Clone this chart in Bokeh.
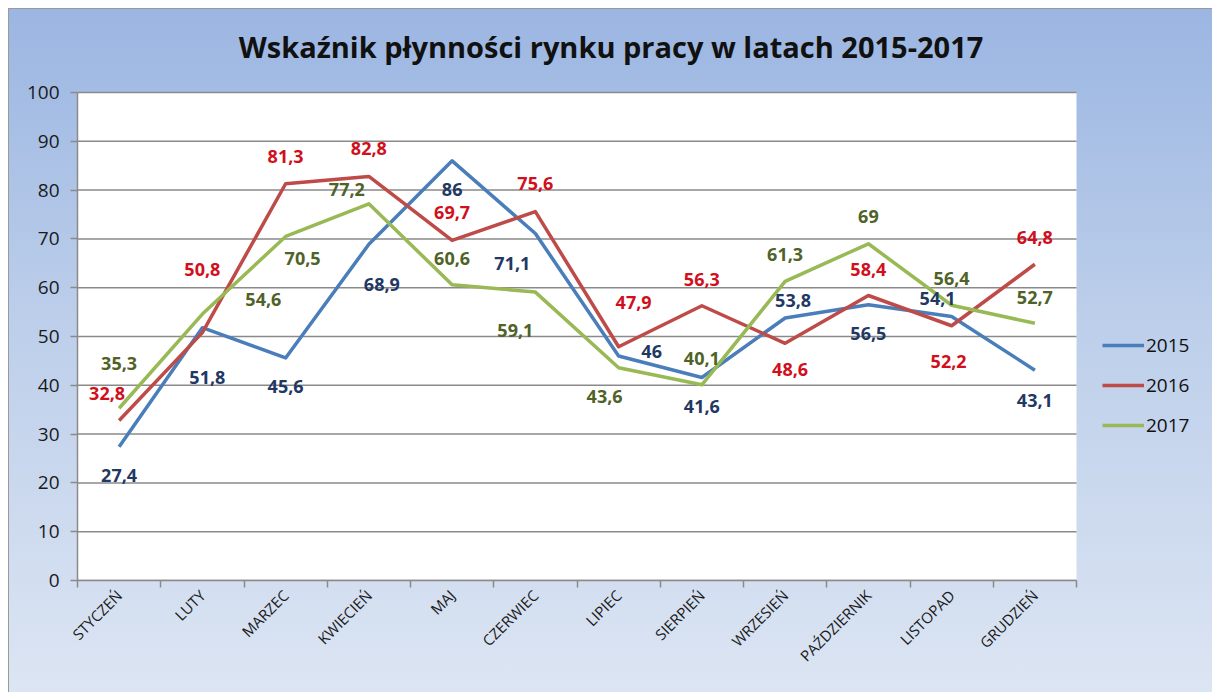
from bokeh.plotting import figure
from bokeh.models import Range1d, FixedTicker, ColumnDataSource, Legend, LegendItem, Label
from bokeh.core.properties import value
from bokeh.embed import file_html
from bokeh.resources import INLINE

# ---- data ----
months = ["STYCZEŃ", "LUTY", "MARZEC", "KWIECIEŃ", "MAJ", "CZERWIEC",
          "LIPIEC", "SIERPIEŃ", "WRZESIEŃ", "PAŹDZIERNIK", "LISTOPAD", "GRUDZIEŃ"]
years = ["2015", "2016", "2017"]
v2015 = [27.4, 51.8, 45.6, 68.9, 86, 71.1, 46, 41.6, 53.8, 56.5, 54.1, 43.1]
v2016 = [32.8, 50.8, 81.3, 82.8, 69.7, 75.6, 47.9, 56.3, 48.6, 58.4, 52.2, 64.8]
v2017 = [35.3, 54.6, 70.5, 77.2, 60.6, 59.1, 43.6, 40.1, 61.3, 69, 56.4, 52.7]
y_ticks = [0, 10, 20, 30, 40, 50, 60, 70, 80, 90, 100]
title_text = "Wskaźnik płynności rynku pracy w latach 2015-2017"

# ---- label placement (style, screen px: dx right, dy down) ----
off2015 = [(0, 29), (5, 50), (0, 29), (13, 40), (0, 29), (-23, 30),
           (33, -5), (0, 29), (8, -17), (0, 29), (-14, -18), (0, 30)]
off2016 = [(-12, -27), (0, -63), (0, -27), (0, -28), (0, -28), (0, -28),
           (15, -44), (0, -26), (5, 26), (0, -26), (-3, 36), (0, -27)]
off2017 = [(0, -45), (61, -15), (17, 22), (-22, -14), (0, -26), (-20, 38),
           (-14, 29), (0, -26), (0, -27), (0, -27), (0, -27), (0, -26)]

line_colors = ["#4A7EBB", "#BE4B48", "#98B954"]
label_colors = ["#1F3864", "#D0101C", "#4F6228"]

n = len(months)
ymax = max(y_ticks)
xs = [i + 0.5 for i in range(n)]

# layout (pixels): chart 1204x684; plot area 999x488 with its left edge at 68 and bottom at 571
W, H = 1204, 684
left, bottom_px, area_w, area_h = 68, 113, 999, 488
frame_w, frame_h = W - left, H - bottom_px
x_end = n * frame_w / area_w
y_end = ymax * frame_h / area_h

p = figure(width=W, height=H, output_backend="svg", toolbar_location=None,
           x_range=Range1d(0, x_end), y_range=Range1d(0, y_end),
           min_border_left=left, min_border_right=0, min_border_top=0,
           min_border_bottom=bottom_px)

p.styles = {"background": "linear-gradient(to bottom, #9BB6E2 0%, #BCCEEA 45%, #DCE5F3 100%)",
            "border-left": "1px solid #9a9a9a", "border-top": "1px solid #9a9a9a",
            "margin-left": "8px", "margin-top": "8px"}
p.border_fill_alpha = 0
p.background_fill_alpha = 0
p.outline_line_color = None
p.xgrid.grid_line_color = None
p.ygrid.grid_line_color = None

# white plot area + horizontal gridlines
p.quad(left=0, right=n, bottom=0, top=ymax, fill_color="white", line_color=None)
p.segment(x0=[0] * len(y_ticks), x1=[n] * len(y_ticks), y0=y_ticks, y1=y_ticks,
          line_color="#8a8a8a", line_width=1.5)

# title
p.add_layout(Label(x=n / 2, y=ymax, x_offset=34, y_offset=46, text=title_text,
                   text_align="center", text_baseline="middle",
                   text_font="Open Sans", text_font_style="bold",
                   text_font_size="29px", text_color="#111111"))

# axes
xa = p.xaxis[0]
xa.bounds = (0, n)
xa.ticker = FixedTicker(ticks=xs, minor_ticks=list(range(n + 1)))
xa.major_label_overrides = {x: m for x, m in zip(xs, months)}
xa.major_label_orientation = 0.785398
xa.major_tick_line_color = None
xa.minor_tick_line_color = "#8a8a8a"
xa.minor_tick_line_width = 1.5
xa.minor_tick_in = 0
xa.minor_tick_out = 7
xa.axis_line_color = "#8a8a8a"
xa.axis_line_width = 1.5
xa.major_label_text_font = "Open Sans"
xa.major_label_text_font_size = "15px"
xa.major_label_text_color = "#1a1a1a"
xa.major_label_standoff = 5

ya = p.yaxis[0]
ya.bounds = (0, ymax)
ya.ticker = FixedTicker(ticks=y_ticks)
ya.minor_tick_line_color = None
ya.major_tick_line_color = "#8a8a8a"
ya.major_tick_line_width = 1.5
ya.major_tick_in = 0
ya.major_tick_out = 7
ya.axis_line_color = "#8a8a8a"
ya.axis_line_width = 1.5
ya.major_label_text_font = "Open Sans"
ya.major_label_text_font_size = "19px"
ya.major_label_text_color = "#1a1a1a"
ya.major_label_standoff = 11

items = []
for name, vals, lc in zip(years, [v2015, v2016, v2017], line_colors):
    r = p.line(xs, vals, line_color=lc, line_width=3.5, line_join="round")
    items.append(LegendItem(label=name, renderers=[r]))

for vals, offs, tc in zip([v2015, v2016, v2017], [off2015, off2016, off2017], label_colors):
    src = ColumnDataSource(dict(x=xs, y=vals,
                                txt=[str(v).replace(".", ",") for v in vals],
                                dx=[o[0] for o in offs], dy=[o[1] for o in offs]))
    p.text("x", "y", text="txt", source=src, x_offset="dx", y_offset="dy",
           text_align="center", text_baseline="middle",
           text_font=value("Open Sans"), text_font_style="bold",
           text_font_size="18px", text_color=tc)

legend = Legend(items=items, location=(1025, 142), orientation="vertical",
                glyph_width=42, glyph_height=20, label_height=20, spacing=14,
                label_standoff=2, padding=0, margin=0,
                border_line_color=None, background_fill_alpha=0,
                label_text_font="Open Sans", label_text_font_size="19px",
                label_text_color="#111111")
p.add_layout(legend)

open("out.html", "w").write(file_html(p, INLINE))
